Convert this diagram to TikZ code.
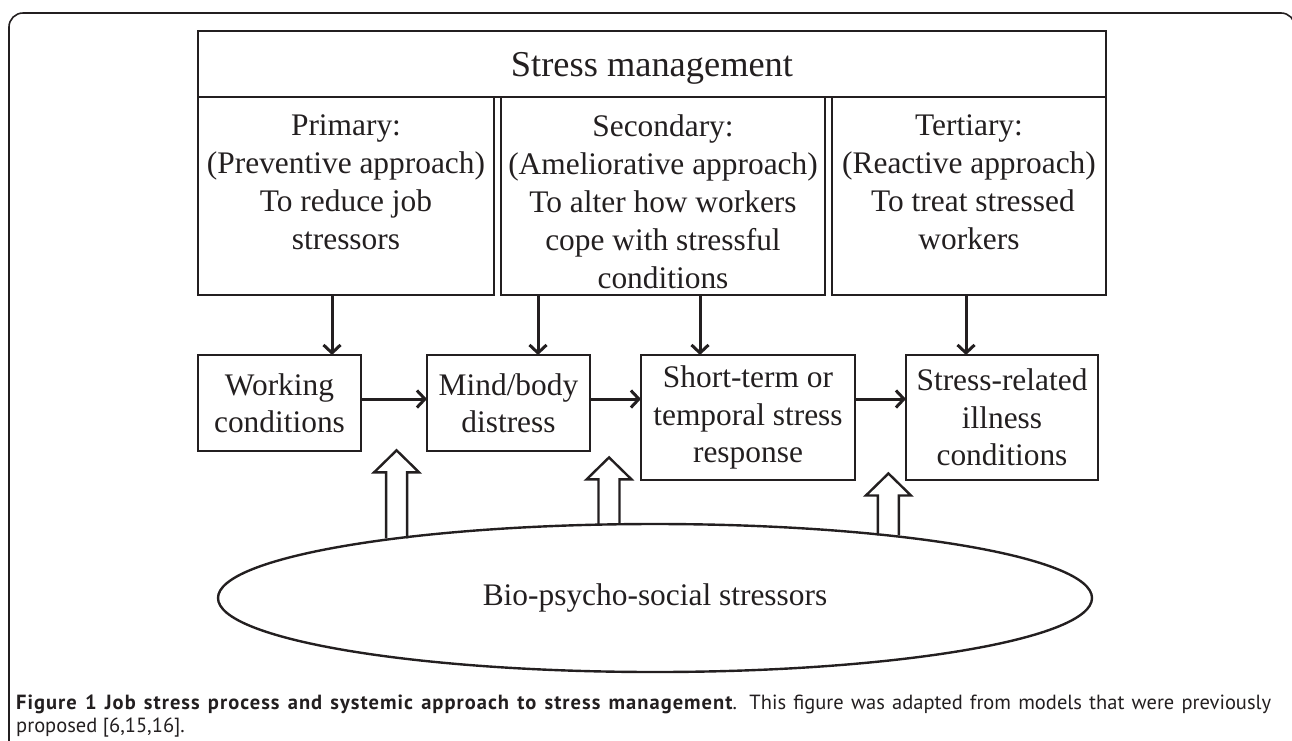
\documentclass[tikz,border=0pt]{standalone}
\usepackage{fontspec}
\setmainfont{Liberation Serif}
\newfontfamily\captionsans{PT Sans}[BoldFeatures={LetterSpace=5}]
\usepackage{xcolor}
\usepackage{tikz}
\usetikzlibrary{shapes.geometric, arrows.meta, positioning}
\definecolor{ink}{RGB}{35,31,32}

\begin{document}
\begin{tikzpicture}[x=1pt, y=-1pt,
        plainbox/.style={rectangle, draw=ink, line width=2.6pt, inner sep=0pt, outer sep=0pt, align=center, text=ink, font=\fontsize{31.4}{37.5}\selectfont},
        mgmt/.style={plainbox, anchor=north west, minimum height=198pt},
        proc/.style={plainbox, anchor=north west, minimum height=96pt},
        boxtxt/.style={inner sep=0pt, align=center, text=ink, font=\fontsize{31.4}{38}\selectfont},
        arrow/.style={-{Straight Barb[length=8pt, width=17pt]}, line width=3pt, ink},
        hollow/.style={draw=ink, line width=2.4pt}
    ]
    \useasboundingbox (0,0) rectangle (1292,740);

    % outer frame
    \draw[ink, line width=1.6pt, rounded corners=14pt] (9,760) -- (9,13) -- (1295,13) -- (1295,760);

    % stress management levels
    \node[plainbox, anchor=north west, minimum width=908pt, minimum height=66pt, text depth=0pt, font=\fontsize{36.4}{42}\selectfont] (header) at (198,31) {Stress management};
    \node[mgmt, minimum width=296pt] (primary) at (198,97) {};
    \node[mgmt, minimum width=324pt, right=7pt of primary.north east, anchor=north west] (secondary) {};
    \node[mgmt, minimum width=274pt, right=7pt of secondary.north east, anchor=north west] (tertiary) {};

    \node[boxtxt, below=18pt of primary.north] (primarytxt) {Primary:\\(Preventive approach)\\To reduce job\\stressors};
    \node[boxtxt, below=18pt of secondary.north] (secondarytxt) {Secondary:\\(Ameliorative approach)\\To alter how workers\\cope with stressful\\conditions};
    \node[boxtxt, below=18pt of tertiary.north] (tertiarytxt) {Tertiary:\\(Reactive approach)\\\ To treat stressed\\workers};

    % job stress process
    \node[proc, minimum width=163pt] (working) at (198,355) {Working\\conditions};
    \node[proc, minimum width=163pt, right=66pt of working.north east, anchor=north west] (mind) {Mind/body\\distress};
    \node[proc, minimum width=214pt, minimum height=125pt, right=51pt of mind.north east, anchor=north west] (shortterm) {Short-term or\\temporal stress\\response};
    \node[proc, minimum width=192pt, minimum height=125pt, right=51pt of shortterm.north east, anchor=north west] (illness) {Stress-related\\illness\\conditions};

    \node[ellipse, draw=ink, line width=2.4pt, inner sep=0pt, outer sep=0pt, minimum width=874pt, minimum height=148pt, text=ink, font=\fontsize{31.4}{37.5}\selectfont] (bio) at (655,598) {Bio-psycho-social stressors};

    % down arrows
    \coordinate (d1) at (332,0);
    \coordinate (d2) at (538,0);
    \coordinate (d3) at (700,0);
    \coordinate (d4) at (966,0);
    \draw[arrow] (primary.south -| d1) -- (working.north -| d1);
    \draw[arrow] (secondary.south -| d2) -- (mind.north -| d2);
    \draw[arrow] (secondary.south -| d3) -- (shortterm.north -| d3);
    \draw[arrow] (tertiary.south -| d4) -- (illness.north -| d4);

    % process arrows
    \coordinate (row) at (0,399);
    \draw[arrow] (working.east |- row) -- (mind.west |- row);
    \draw[arrow] (mind.east |- row) -- (shortterm.west |- row);
    \draw[arrow] (shortterm.east |- row) -- (illness.west |- row);

    % stressor arrows
    \draw[hollow] (bio.167.6) ++(-10.5,0) -- ++(0,-66) -- ++(-12,0) -- ++(22.5,-22) -- ++(22.5,22) -- ++(-12,0) -- ++(0,66);
    \draw[hollow] (bio.122.6) ++(-10.5,0) -- ++(0,-45) -- ++(-12,0) -- ++(22.5,-22) -- ++(22.5,22) -- ++(-12,0) -- ++(0,45);
    \draw[hollow] (bio.15.75) ++(-10.5,0) -- ++(0,-40) -- ++(-12,0) -- ++(22.5,-22) -- ++(22.5,22) -- ++(-12,0) -- ++(0,40);

    % caption
    \node[anchor=north west, inner sep=0pt, text width=1255pt, align=justify, text=ink, font={\captionsans\fontsize{20.5}{22.5}\selectfont}] (caption) at (16,695) {\hyphenpenalty=10000 \textbf{Figure 1 Job stress process and systemic approach to stress management}. This figure was adapted from models that were previously\linebreak proposed [6,15,16].};

\end{tikzpicture}
\end{document}
